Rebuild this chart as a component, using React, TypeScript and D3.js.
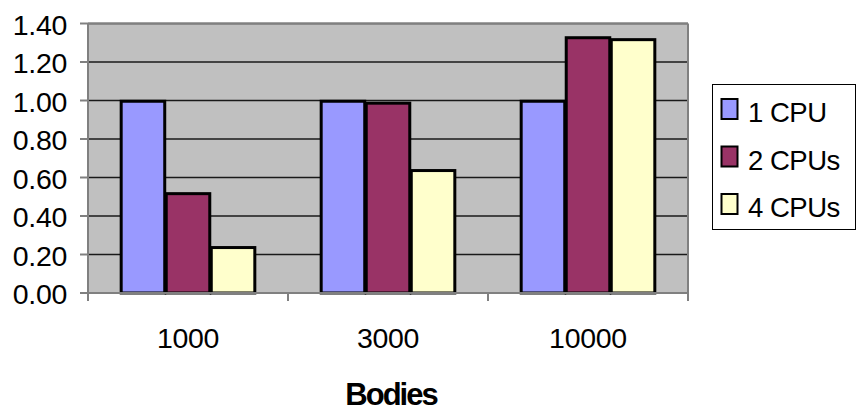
import React from "react";
import * as d3 from "d3";

const categories = ["1000", "3000", "10000"];
const seriesNames = ["1 CPU", "2 CPUs", "4 CPUs"];
const cpu1 = [1.0, 1.0, 1.0];
const cpu2 = [0.52, 0.99, 1.33];
const cpu4 = [0.24, 0.64, 1.32];
const yTicks = [0, 0.2, 0.4, 0.6, 0.8, 1.0, 1.2, 1.4];
const colors = ["#9999FF", "#993366", "#FFFFCC"];

const W = 858;
const H = 411;
const plot = { left: 88, right: 688, top: 23.5, bottom: 293 };
const FONT = "'Liberation Sans', Arial, sans-serif";

export default function App() {
  const series = [cpu1, cpu2, cpu4];
  const x = d3
    .scaleBand<string>()
    .domain(categories)
    .range([plot.left, plot.right])
    .paddingInner(0)
    .paddingOuter(0);
  const gapRatio = 1.44;
  const barW = x.bandwidth() / (series.length + gapRatio);
  const groupOffset = (gapRatio * barW) / 2;
  const y = d3.scaleLinear().domain([0, 1.4]).range([plot.bottom, plot.top]);

  const boundaries = d3.range(categories.length + 1).map((i) => plot.left + i * x.bandwidth());

  return (
    <div style={{ position: "fixed", left: 0, top: 0 }}>
      <svg width={W} height={H} style={{ display: "block", background: "#fff" }}>
        <rect
          x={plot.left}
          y={plot.top}
          width={plot.right - plot.left}
          height={plot.bottom - plot.top}
          fill="#C0C0C0"
        />
        {yTicks.slice(1).map((t) => (
          <line
            key={"g" + t}
            x1={plot.left}
            x2={plot.right}
            y1={y(t)}
            y2={y(t)}
            stroke="#1a1a1a"
            strokeWidth={1.3}
          />
        ))}
        {/* plot border */}
        <line x1={plot.left} x2={plot.right} y1={plot.top} y2={plot.top} stroke="#808080" strokeWidth={2} />
        <line x1={plot.right} x2={plot.right} y1={plot.top} y2={plot.bottom} stroke="#808080" strokeWidth={2} />

        {series.map((vals, si) =>
          vals.map((v, ci) => {
            const x0 = (x(categories[ci]) as number) + groupOffset + si * barW;
            return (
              <rect
                key={`b${si}-${ci}`}
                x={x0 + 0.75}
                y={y(v) + 0.75}
                width={barW - 1.5}
                height={y(0) - y(v) - 0.75}
                fill={colors[si]}
                stroke="#000"
                strokeWidth={3}
              />
            );
          })
        )}

        {/* axes */}
        <line x1={plot.left} x2={plot.left} y1={plot.top} y2={plot.bottom} stroke="#808080" strokeWidth={2} />
        <line x1={plot.left - 8} x2={plot.right} y1={plot.bottom} y2={plot.bottom} stroke="#808080" strokeWidth={2} />
        {yTicks.map((t) => (
          <g key={"t" + t}>
            <line x1={plot.left - 8} x2={plot.left} y1={y(t)} y2={y(t)} stroke="#808080" strokeWidth={2} />
            <text
              x={67}
              y={y(t) + 11}
              textAnchor="end"
              fontFamily={FONT}
              fontSize={28.5}
              letterSpacing={-0.3}
              fill="#000"
            >
              {t.toFixed(2)}
            </text>
          </g>
        ))}
        {boundaries.map((bx, i) => (
          <line key={"xt" + i} x1={bx} x2={bx} y1={plot.bottom} y2={plot.bottom + 8} stroke="#808080" strokeWidth={2} />
        ))}
        {categories.map((c) => (
          <text
            key={"c" + c}
            x={(x(c) as number) + x.bandwidth() / 2}
            y={347.5}
            textAnchor="middle"
            fontFamily={FONT}
            fontSize={28.5}
            letterSpacing={-0.3}
            fill="#000"
          >
            {c}
          </text>
        ))}
        <text
          x={(plot.left + plot.right) / 2 + 3}
          y={405}
          textAnchor="middle"
          fontFamily={FONT}
          fontSize={31}
          fontWeight="bold"
          letterSpacing={-2}
          fill="#000"
        >
          Bodies
        </text>

        {/* legend */}
        <rect x={712.5} y={84.5} width={143} height={145} fill="#fff" stroke="#000" strokeWidth={1} />
        {seriesNames.map((name, i) => {
          const base = 122 + i * 47.5;
          return (
            <g key={"l" + i}>
              <rect
                x={721.5}
                y={base - 23}
                width={16}
                height={20}
                fill={colors[i]}
                stroke="#000"
                strokeWidth={2}
              />
              <text x={748} y={base} fontFamily={FONT} fontSize={27.5} letterSpacing={-0.5} fill="#000">
                {name}
              </text>
            </g>
          );
        })}
      </svg>
    </div>
  );
}
